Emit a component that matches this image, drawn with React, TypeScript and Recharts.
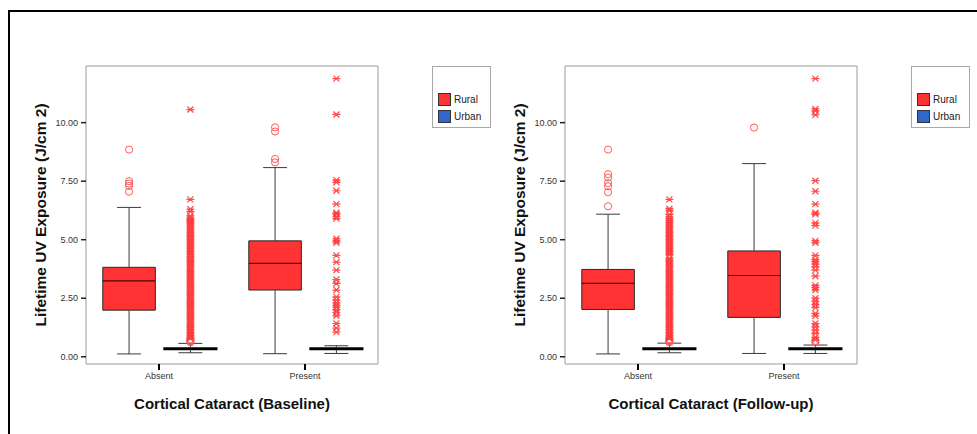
import React from 'react';
import {
  ComposedChart,
  XAxis,
  YAxis,
  Scatter,
  ReferenceArea,
  ReferenceLine,
  Legend,
  Label,
} from 'recharts';

const categories = ['Absent', 'Present'];
const groups = ['Rural', 'Urban'];
const groupColors = ['#ff3333', '#3366cc'];
const yTicks = [0, 2.5, 5, 7.5, 10];

// [min, q1, median, q3, max] for Absent, Present
const baselineRuralBox = [
  [0.12, 1.99, 3.24, 3.82, 6.38],
  [0.13, 2.85, 3.99, 4.95, 8.08],
];
const baselineUrbanBox = [
  [0.17, 0.31, 0.34, 0.37, 0.57],
  [0.14, 0.31, 0.34, 0.37, 0.47],
];
const followupRuralBox = [
  [0.12, 2.02, 3.13, 3.73, 6.09],
  [0.14, 1.68, 3.47, 4.52, 8.25],
];
const followupUrbanBox = [
  [0.17, 0.31, 0.34, 0.37, 0.58],
  [0.14, 0.31, 0.34, 0.37, 0.5],
];

// outliers (circles)
const baselineRuralOutliers = [[8.85, 7.5, 7.4, 7.3, 7.05], [9.8, 9.62, 8.45, 8.3]];
const baselineUrbanOutliers = [[0.62, 0.66, 0.7, 0.74], []];
const followupRuralOutliers = [[8.85, 7.8, 7.65, 7.42, 7.28, 7.03, 6.43], [9.79]];
const followupUrbanOutliers = [[0.62, 0.66, 0.7, 0.74], [0.62, 0.68]];

// extremes (asterisks)
const baselineRuralExtremes = [[], []];
const baselineUrbanExtremes = [
  [
    0.78, 0.84, 0.9, 0.97, 1.03, 1.1, 1.16, 1.23, 1.3, 1.36, 1.42, 1.5, 1.57, 1.63, 1.7, 1.77,
    1.84, 1.9, 1.97, 2.04, 2.11, 2.18, 2.25, 2.31, 2.38, 2.45, 2.52, 2.6, 2.66, 2.73, 2.8, 2.87,
    2.94, 3.01, 3.08, 3.15, 3.22, 3.29, 3.36, 3.43, 3.5, 3.57, 3.64, 3.71, 3.78, 3.86, 3.93, 4.0,
    4.07, 4.14, 4.21, 4.28, 4.36, 4.43, 4.5, 4.57, 4.64, 4.71, 4.79, 4.86, 4.93, 5.0, 5.08, 5.15,
    5.22, 5.3, 5.37, 5.45, 5.52, 5.6, 5.67, 5.74, 5.8, 5.86, 5.92, 6.02, 6.2, 6.3, 6.72, 10.56,
  ],
  [
    11.88, 10.35, 7.54, 7.45, 7.09, 6.52, 6.15, 6.1, 5.98, 5.9, 5.04, 4.95, 4.87, 4.33, 4.04,
    3.7, 3.3, 3.13, 2.85, 2.56, 2.42, 2.3, 2.2, 2.12, 2.0, 1.9, 1.75, 1.42, 1.22, 1.05,
  ],
];
const followupRuralExtremes = [[], []];
const followupUrbanExtremes = [
  [
    0.78, 0.84, 0.9, 0.97, 1.03, 1.1, 1.16, 1.23, 1.3, 1.36, 1.42, 1.5, 1.57, 1.63, 1.7, 1.77,
    1.84, 1.9, 1.97, 2.04, 2.11, 2.18, 2.25, 2.31, 2.38, 2.45, 2.52, 2.6, 2.66, 2.73, 2.8, 2.87,
    2.94, 3.01, 3.08, 3.15, 3.22, 3.29, 3.36, 3.43, 3.5, 3.57, 3.64, 3.71, 3.78, 3.86, 3.93, 4.0,
    4.07, 4.14, 4.21, 4.36, 4.43, 4.5, 4.57, 4.64, 4.71, 4.79, 4.86, 4.93, 5.0, 5.08, 5.15,
    5.22, 5.3, 5.37, 5.45, 5.52, 5.6, 5.67, 5.74, 5.82, 5.9, 5.98, 6.08, 6.25, 6.33, 6.72,
  ],
  [
    11.88, 10.59, 10.5, 10.33, 7.52, 7.07, 6.52, 6.15, 6.08, 5.72, 5.6, 4.95, 4.87, 4.33, 4.15,
    4.07, 3.96, 3.85, 3.7, 3.44, 3.05, 2.96, 2.85, 2.5, 2.37, 2.23, 2.1, 1.85, 1.74, 1.42, 1.28,
    1.14, 1.0, 0.83, 0.72,
  ],
];

const FONT = '"Liberation Sans", Arial, sans-serif';
const GROUP_OFFSET = [-0.205, 0.215];
const BOX_HALF = 0.18;
const CAP_HALF = 0.082;
const Y_DOMAIN = [-0.31, 12.42];

const CircleMark = (props: any) => {
  const { cx, cy } = props;
  if (cx == null || cy == null) return null;
  return <circle cx={cx} cy={cy} r={3.6} fill="none" stroke="#ff5a5a" strokeWidth={1} />;
};

const StarMark = (props: any) => {
  const { cx, cy } = props;
  if (cx == null || cy == null) return null;
  const d = `M${cx - 4},${cy}H${cx + 4}M${cx - 3},${cy - 3}L${cx + 3},${cy + 3}M${cx - 3},${cy + 3}L${cx + 3},${cy - 3}`;
  return <path d={d} stroke="#ff3838" strokeOpacity={0.9} strokeWidth={1.2} fill="none" />;
};

const LegendBox = () => (
  <div
    style={{
      width: 59,
      height: 62,
      boxSizing: 'border-box',
      border: '1px solid #a8a8a8',
      background: '#fff',
      position: 'relative',
      fontFamily: FONT,
    }}
  >
    {groups.map((g, i) => (
      <div key={g} style={{ position: 'absolute', left: 5, top: 25 + i * 17, height: 14, display: 'flex', alignItems: 'center' }}>
        <div style={{ width: 13, height: 13, background: groupColors[i], border: '1px solid #333', boxSizing: 'border-box' }} />
        <span style={{ marginLeft: 3, fontSize: 10, color: '#222' }}>{g}</span>
      </div>
    ))}
  </div>
);

function Panel({ title, ruralBox, urbanBox, outliers, extremes }: any) {
  const boxes = [ruralBox, urbanBox];
  const circlePts: { x: number; y: number }[] = [];
  const starPts: { x: number; y: number }[] = [];
  groups.forEach((_, gi) =>
    categories.forEach((__, ci) => {
      const x = ci + 1 + GROUP_OFFSET[gi];
      outliers[gi][ci].forEach((y: number) => circlePts.push({ x, y }));
      extremes[gi][ci].forEach((y: number) => starPts.push({ x, y }));
    })
  );

  const marks: React.ReactNode[] = [];
  boxes.forEach((box: number[][], gi: number) =>
    box.forEach(([min, q1, med, q3, max], ci) => {
      const cx = ci + 1 + GROUP_OFFSET[gi];
      const k = `${gi}-${ci}`;
      const ws = '#3a3a3a';
      marks.push(
        <ReferenceLine key={`wu${k}`} segment={[{ x: cx, y: q3 }, { x: cx, y: max }]} stroke={ws} ifOverflow="visible" />,
        <ReferenceLine key={`wl${k}`} segment={[{ x: cx, y: q1 }, { x: cx, y: min }]} stroke={ws} ifOverflow="visible" />,
        <ReferenceLine key={`cu${k}`} segment={[{ x: cx - CAP_HALF, y: max }, { x: cx + CAP_HALF, y: max }]} stroke={ws} ifOverflow="visible" />,
        <ReferenceLine key={`cl${k}`} segment={[{ x: cx - CAP_HALF, y: min }, { x: cx + CAP_HALF, y: min }]} stroke={ws} ifOverflow="visible" />,
        <ReferenceArea
          key={`b${k}`}
          x1={cx - BOX_HALF}
          x2={cx + BOX_HALF}
          y1={q1}
          y2={q3}
          fill={groupColors[gi]}
          fillOpacity={1}
          stroke={gi === 0 ? '#2a2a2a' : '#000'}
          strokeWidth={gi === 0 ? 1 : 1.6}
          ifOverflow="visible"
        />,
        <ReferenceLine
          key={`m${k}`}
          segment={[{ x: cx - BOX_HALF, y: med }, { x: cx + BOX_HALF, y: med }]}
          stroke={gi === 0 ? '#4a0a0a' : '#000'}
          strokeWidth={gi === 0 ? 1.2 : 1.6}
          ifOverflow="visible"
        />
      );
    })
  );

  return (
    <ComposedChart width={498} height={434} margin={{ top: 66, right: 120, bottom: 40, left: 26 }}>
      <XAxis
        type="number"
        dataKey="x"
        domain={[0.5, 2.5]}
        ticks={[1, 2]}
        interval={0}
        tickFormatter={(v: number) => categories[v - 1]}
        axisLine={false}
        tickLine={{ stroke: '#000', strokeWidth: 2 }}
        tickSize={6}
        tickMargin={3}
        height={30}
        tick={{ fontSize: 9, fill: '#333', fontFamily: FONT }}
      >
        <Label
          content={(p: any) => {
            const vb = p.viewBox;
            return (
              <text
                x={vb.x + vb.width / 2}
                y={vb.y + 39.5}
                textAnchor="middle"
                dominantBaseline="central"
                fontSize={15}
                fontWeight="bold"
                fill="#111"
                fontFamily={FONT}
              >
                {title}
              </text>
            );
          }}
        />
      </XAxis>
      <YAxis
        type="number"
        dataKey="y"
        domain={Y_DOMAIN}
        ticks={yTicks}
        interval={0}
        tickFormatter={(v: number) => v.toFixed(2)}
        width={60}
        axisLine={false}
        tickLine={{ stroke: '#222', strokeWidth: 1.5 }}
        tickSize={5}
        tickMargin={3}
        tick={{ fontSize: 9, fill: '#333', fontFamily: FONT }}
      >
        <Label
          content={(p: any) => {
            const vb = p.viewBox;
            const cx = vb.x + 14;
            const cy = vb.y + vb.height / 2;
            return (
              <text
                x={cx}
                y={cy}
                transform={`rotate(-90, ${cx}, ${cy})`}
                textAnchor="middle"
                dominantBaseline="central"
                fontSize={15.5}
                fontWeight="bold"
                fill="#111"
                fontFamily={FONT}
              >
                Lifetime UV Exposure (J/cm 2)
              </text>
            );
          }}
        />
      </YAxis>
      <ReferenceArea
        x1={0.5}
        x2={2.5}
        y1={Y_DOMAIN[0]}
        y2={Y_DOMAIN[1]}
        fill="none"
        stroke="#9a9a9a"
        ifOverflow="visible"
      />
      {marks}
      <Scatter data={circlePts} shape={CircleMark} isAnimationActive={false} />
      <Scatter data={starPts} shape={StarMark} isAnimationActive={false} />
      <Legend
        layout="vertical"
        align="center"
        verticalAlign="middle"
        wrapperStyle={{ left: 432, top: 66, width: 59, height: 62 }}
        content={() => <LegendBox />}
      />
    </ComposedChart>
  );
}

export default function App() {
  return (
    <div style={{ position: 'absolute', left: 0, top: 0, width: 977, height: 434, background: '#fff', overflow: 'hidden' }}>
      <div
        style={{
          position: 'absolute',
          left: 8,
          top: 10,
          right: 0,
          bottom: 0,
          borderTop: '2px solid #000',
          borderLeft: '2px solid #000',
        }}
      />
      <div style={{ position: 'absolute', left: 0, top: 0 }}>
        <Panel
          title="Cortical Cataract (Baseline)"
          ruralBox={baselineRuralBox}
          urbanBox={baselineUrbanBox}
          outliers={[baselineRuralOutliers, baselineUrbanOutliers]}
          extremes={[baselineRuralExtremes, baselineUrbanExtremes]}
        />
      </div>
      <div style={{ position: 'absolute', left: 479, top: 0 }}>
        <Panel
          title="Cortical Cataract (Follow-up)"
          ruralBox={followupRuralBox}
          urbanBox={followupUrbanBox}
          outliers={[followupRuralOutliers, followupUrbanOutliers]}
          extremes={[followupRuralExtremes, followupUrbanExtremes]}
        />
      </div>
    </div>
  );
}
